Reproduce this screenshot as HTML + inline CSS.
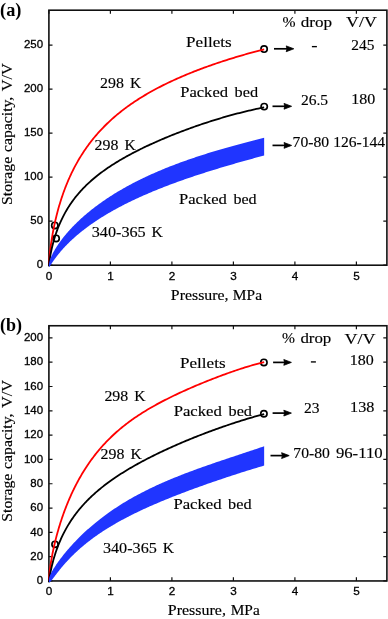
<!DOCTYPE html>
<html><head><meta charset="utf-8"><style>html,body{margin:0;padding:0;background:#fff;}svg{display:block;will-change:transform}</style></head>
<body><svg width="388" height="619" viewBox="0 0 388 619">
<rect width="388" height="619" fill="#fff"/>
<rect x="48.90" y="10.20" width="338.00" height="255.00" fill="none" stroke="#111" stroke-width="1.6"/>
<path d="M48.90,265.20h3.6M386.90,265.20h-3.6M48.90,221.18h3.6M386.90,221.18h-3.6M48.90,177.16h3.6M386.90,177.16h-3.6M48.90,133.14h3.6M386.90,133.14h-3.6M48.90,89.12h3.6M386.90,89.12h-3.6M48.90,45.10h3.6M386.90,45.10h-3.6M48.90,265.20v-3.6M48.90,10.20v3.6M110.40,265.20v-3.6M110.40,10.20v3.6M171.90,265.20v-3.6M171.90,10.20v3.6M233.40,265.20v-3.6M233.40,10.20v3.6M294.90,265.20v-3.6M294.90,10.20v3.6M356.40,265.20v-3.6M356.40,10.20v3.6" stroke="#111" stroke-width="1.2" fill="none"/>
<g font-family="Liberation Sans" font-size="11.7" fill="#000" stroke="#000" stroke-width="0.3"><text x="43.05" y="268.45" text-anchor="end" font-size="11.45">0</text><text x="43.05" y="224.43" text-anchor="end" font-size="11.45">50</text><text x="43.05" y="180.41" text-anchor="end" font-size="11.45">100</text><text x="43.05" y="136.39" text-anchor="end" font-size="11.45">150</text><text x="43.05" y="92.37" text-anchor="end" font-size="11.45">200</text><text x="43.05" y="48.35" text-anchor="end" font-size="11.45">250</text><text x="48.90" y="279.70" text-anchor="middle">0</text><text x="110.40" y="279.70" text-anchor="middle">1</text><text x="171.90" y="279.70" text-anchor="middle">2</text><text x="233.40" y="279.70" text-anchor="middle">3</text><text x="294.90" y="279.70" text-anchor="middle">4</text><text x="356.40" y="279.70" text-anchor="middle">5</text></g>
<circle cx="264.10" cy="49.10" r="3.15" fill="none" stroke="#000" stroke-width="1.65"/>
<circle cx="264.20" cy="106.60" r="3.15" fill="none" stroke="#000" stroke-width="1.65"/>
<circle cx="54.80" cy="225.40" r="3.15" fill="none" stroke="#000" stroke-width="1.65"/>
<circle cx="56.10" cy="238.40" r="3.15" fill="none" stroke="#000" stroke-width="1.65"/>
<path d="M48.90,265.20 L48.90,265.04 L48.92,264.67 L48.94,264.16 L48.97,263.55 L49.01,262.85 L49.06,262.06 L49.12,261.21 L49.19,260.30 L49.26,259.34 L49.35,258.32 L49.44,257.26 L49.55,256.16 L49.66,255.03 L49.78,253.85 L49.91,252.65 L50.05,251.42 L50.20,250.16 L50.35,248.88 L50.52,247.57 L50.70,246.25 L50.88,244.90 L51.07,243.54 L51.27,242.17 L51.49,240.78 L51.71,239.37 L51.93,237.96 L52.17,236.53 L52.42,235.10 L52.67,233.65 L52.94,232.20 L53.21,230.74 L53.50,229.28 L53.79,227.81 L54.09,226.34 L54.40,224.86 L54.72,223.38 L55.04,221.90 L55.38,220.42 L55.73,218.93 L56.08,217.45 L56.44,215.96 L56.82,214.48 L57.20,213.00 L57.59,211.52 L57.99,210.04 L58.40,208.56 L58.81,207.08 L59.24,205.61 L59.68,204.15 L60.12,202.68 L60.57,201.22 L61.04,199.76 L61.51,198.31 L61.99,196.87 L62.48,195.43 L62.97,193.99 L63.48,192.56 L64.00,191.14 L64.52,189.72 L65.06,188.30 L65.60,186.90 L66.15,185.50 L66.71,184.11 L67.28,182.72 L67.86,181.34 L68.45,179.97 L69.05,178.61 L69.65,177.25 L70.27,175.90 L70.89,174.56 L71.52,173.22 L72.17,171.90 L72.82,170.58 L73.48,169.27 L74.15,167.96 L74.82,166.67 L75.51,165.38 L76.21,164.10 L76.91,162.83 L77.62,161.57 L78.35,160.31 L79.08,159.07 L79.82,157.83 L80.57,156.60 L81.33,155.38 L82.09,154.17 L82.87,152.96 L83.66,151.77 L84.45,150.58 L85.25,149.40 L86.07,148.23 L86.89,147.06 L87.72,145.91 L88.56,144.76 L89.40,143.62 L90.26,142.49 L91.13,141.37 L92.00,140.26 L92.89,139.15 L93.78,138.05 L94.68,136.96 L95.59,135.88 L96.51,134.81 L97.44,133.74 L98.38,132.68 L99.33,131.63 L100.28,130.59 L101.25,129.56 L102.22,128.53 L103.21,127.51 L104.20,126.50 L105.20,125.50 L106.21,124.50 L107.23,123.51 L108.25,122.53 L109.29,121.55 L110.34,120.59 L111.39,119.63 L112.45,118.67 L113.53,117.73 L114.61,116.79 L115.70,115.86 L116.80,114.93 L117.91,114.01 L119.03,113.10 L120.15,112.20 L121.29,111.30 L122.43,110.41 L123.59,109.52 L124.75,108.64 L125.92,107.77 L127.10,106.90 L128.29,106.04 L129.49,105.19 L130.69,104.34 L131.91,103.50 L133.14,102.66 L134.37,101.83 L135.61,101.01 L136.87,100.19 L138.13,99.38 L139.40,98.57 L140.68,97.77 L141.96,96.97 L143.26,96.18 L144.57,95.39 L145.88,94.61 L147.21,93.84 L148.54,93.07 L149.88,92.30 L151.23,91.54 L152.59,90.79 L153.96,90.04 L155.34,89.29 L156.72,88.55 L158.12,87.82 L159.53,87.09 L160.94,86.36 L162.36,85.64 L163.79,84.92 L165.23,84.21 L166.68,83.50 L168.14,82.80 L169.61,82.10 L171.09,81.40 L172.57,80.71 L174.07,80.03 L175.57,79.34 L177.08,78.66 L178.60,77.99 L180.13,77.32 L181.67,76.65 L183.22,75.99 L184.78,75.33 L186.35,74.68 L187.92,74.02 L189.51,73.38 L191.10,72.73 L192.70,72.09 L194.31,71.46 L195.93,70.82 L197.56,70.19 L199.20,69.57 L200.85,68.95 L202.50,68.33 L204.17,67.71 L205.84,67.10 L207.52,66.49 L209.22,65.89 L210.92,65.29 L212.63,64.69 L214.35,64.09 L216.07,63.50 L217.81,62.91 L219.56,62.33 L221.31,61.75 L223.08,61.17 L224.85,60.60 L226.63,60.03 L228.42,59.46 L230.22,58.89 L232.03,58.33 L233.85,57.77 L235.67,57.22 L237.51,56.67 L239.35,56.12 L241.21,55.58 L243.07,55.04 L244.94,54.50 L246.82,53.97 L248.71,53.43 L250.61,52.91 L252.52,52.38 L254.43,51.86 L256.36,51.35 L258.29,50.83 L260.24,50.33 L262.19,49.82 L264.15,49.32" fill="none" stroke="#ff0000" stroke-width="1.8" stroke-linejoin="round"/>
<path d="M48.90,265.20 L48.90,265.52 L48.92,265.54 L48.94,265.39 L48.97,265.13 L49.01,264.78 L49.06,264.34 L49.12,263.84 L49.19,263.28 L49.26,262.67 L49.35,262.01 L49.44,261.31 L49.55,260.57 L49.66,259.80 L49.78,259.00 L49.91,258.17 L50.05,257.31 L50.20,256.43 L50.35,255.53 L50.52,254.61 L50.70,253.67 L50.88,252.72 L51.07,251.76 L51.27,250.78 L51.49,249.79 L51.71,248.79 L51.93,247.78 L52.17,246.77 L52.42,245.74 L52.67,244.72 L52.94,243.68 L53.21,242.64 L53.50,241.60 L53.79,240.56 L54.09,239.51 L54.40,238.46 L54.72,237.41 L55.04,236.36 L55.38,235.31 L55.73,234.26 L56.08,233.21 L56.44,232.16 L56.82,231.12 L57.20,230.07 L57.59,229.03 L57.99,227.99 L58.40,226.95 L58.81,225.92 L59.24,224.89 L59.68,223.86 L60.12,222.84 L60.57,221.82 L61.04,220.81 L61.51,219.80 L61.99,218.79 L62.48,217.79 L62.97,216.80 L63.48,215.81 L64.00,214.82 L64.52,213.85 L65.06,212.87 L65.60,211.90 L66.15,210.94 L66.71,209.98 L67.28,209.03 L67.86,208.08 L68.45,207.14 L69.05,206.21 L69.65,205.28 L70.27,204.35 L70.89,203.44 L71.52,202.53 L72.17,201.62 L72.82,200.72 L73.48,199.83 L74.15,198.94 L74.82,198.05 L75.51,197.18 L76.21,196.31 L76.91,195.44 L77.62,194.58 L78.35,193.73 L79.08,192.88 L79.82,192.04 L80.57,191.20 L81.33,190.37 L82.09,189.54 L82.87,188.72 L83.66,187.90 L84.45,187.09 L85.25,186.28 L86.07,185.48 L86.89,184.69 L87.72,183.90 L88.56,183.11 L89.40,182.33 L90.26,181.55 L91.13,180.78 L92.00,180.02 L92.89,179.25 L93.78,178.50 L94.68,177.74 L95.59,176.99 L96.51,176.25 L97.44,175.51 L98.38,174.77 L99.33,174.04 L100.28,173.31 L101.25,172.58 L102.22,171.86 L103.21,171.14 L104.20,170.43 L105.20,169.72 L106.21,169.01 L107.23,168.31 L108.25,167.61 L109.29,166.91 L110.34,166.22 L111.39,165.53 L112.45,164.84 L113.53,164.15 L114.61,163.47 L115.70,162.79 L116.80,162.12 L117.91,161.44 L119.03,160.77 L120.15,160.10 L121.29,159.44 L122.43,158.77 L123.59,158.11 L124.75,157.45 L125.92,156.80 L127.10,156.14 L128.29,155.49 L129.49,154.84 L130.69,154.19 L131.91,153.54 L133.14,152.90 L134.37,152.26 L135.61,151.62 L136.87,150.98 L138.13,150.34 L139.40,149.71 L140.68,149.07 L141.96,148.44 L143.26,147.81 L144.57,147.18 L145.88,146.56 L147.21,145.93 L148.54,145.31 L149.88,144.69 L151.23,144.07 L152.59,143.45 L153.96,142.83 L155.34,142.21 L156.72,141.60 L158.12,140.99 L159.53,140.37 L160.94,139.76 L162.36,139.16 L163.79,138.55 L165.23,137.94 L166.68,137.34 L168.14,136.74 L169.61,136.14 L171.09,135.54 L172.57,134.94 L174.07,134.34 L175.57,133.75 L177.08,133.16 L178.60,132.56 L180.13,131.98 L181.67,131.39 L183.22,130.80 L184.78,130.22 L186.35,129.64 L187.92,129.06 L189.51,128.48 L191.10,127.90 L192.70,127.33 L194.31,126.76 L195.93,126.19 L197.56,125.63 L199.20,125.06 L200.85,124.50 L202.50,123.94 L204.17,123.39 L205.84,122.83 L207.52,122.28 L209.22,121.74 L210.92,121.19 L212.63,120.65 L214.35,120.11 L216.07,119.58 L217.81,119.05 L219.56,118.52 L221.31,118.00 L223.08,117.48 L224.85,116.97 L226.63,116.45 L228.42,115.95 L230.22,115.45 L232.03,114.95 L233.85,114.46 L235.67,113.97 L237.51,113.48 L239.35,113.01 L241.21,112.53 L243.07,112.07 L244.94,111.61 L246.82,111.15 L248.71,110.70 L250.61,110.26 L252.52,109.82 L254.43,109.39 L256.36,108.97 L258.29,108.55 L260.24,108.14 L262.19,107.74 L264.15,107.35" fill="none" stroke="#000" stroke-width="1.8" stroke-linejoin="round"/>
<path d="M48.90,265.20 L48.90,264.93 L48.92,264.65 L48.94,264.35 L48.97,264.05 L49.01,263.74 L49.06,263.42 L49.12,263.08 L49.19,262.74 L49.26,262.39 L49.35,262.03 L49.44,261.66 L49.55,261.28 L49.66,260.90 L49.78,260.50 L49.91,260.10 L50.05,259.68 L50.20,259.26 L50.35,258.83 L50.52,258.40 L50.70,257.95 L50.88,257.50 L51.07,257.04 L51.27,256.57 L51.49,256.10 L51.71,255.61 L51.93,255.13 L52.17,254.63 L52.42,254.13 L52.67,253.62 L52.94,253.10 L53.21,252.58 L53.50,252.06 L53.79,251.52 L54.09,250.98 L54.40,250.44 L54.72,249.89 L55.04,249.33 L55.38,248.77 L55.73,248.20 L56.08,247.63 L56.44,247.05 L56.82,246.47 L57.20,245.88 L57.59,245.29 L57.99,244.70 L58.40,244.10 L58.81,243.49 L59.24,242.88 L59.68,242.27 L60.12,241.65 L60.57,241.03 L61.04,240.41 L61.51,239.78 L61.99,239.15 L62.48,238.51 L62.97,237.87 L63.48,237.23 L64.00,236.59 L64.52,235.94 L65.06,235.29 L65.60,234.64 L66.15,233.98 L66.71,233.32 L67.28,232.66 L67.86,232.00 L68.45,231.33 L69.05,230.66 L69.65,229.99 L70.27,229.32 L70.89,228.65 L71.52,227.97 L72.17,227.30 L72.82,226.62 L73.48,225.94 L74.15,225.25 L74.82,224.57 L75.51,223.89 L76.21,223.20 L76.91,222.51 L77.62,221.83 L78.35,221.14 L79.08,220.45 L79.82,219.76 L80.57,219.06 L81.33,218.37 L82.09,217.68 L82.87,216.99 L83.66,216.29 L84.45,215.60 L85.25,214.91 L86.07,214.21 L86.89,213.52 L87.72,212.82 L88.56,212.13 L89.40,211.44 L90.26,210.74 L91.13,210.05 L92.00,209.35 L92.89,208.66 L93.78,207.97 L94.68,207.28 L95.59,206.58 L96.51,205.89 L97.44,205.20 L98.38,204.51 L99.33,203.82 L100.28,203.14 L101.25,202.45 L102.22,201.76 L103.21,201.08 L104.20,200.39 L105.20,199.71 L106.21,199.03 L107.23,198.35 L108.25,197.67 L109.29,196.99 L110.34,196.31 L111.39,195.64 L112.45,194.96 L113.53,194.29 L114.61,193.62 L115.70,192.95 L116.80,192.28 L117.91,191.62 L119.03,190.95 L120.15,190.29 L121.29,189.63 L122.43,188.97 L123.59,188.31 L124.75,187.65 L125.92,187.00 L127.10,186.35 L128.29,185.70 L129.49,185.05 L130.69,184.40 L131.91,183.76 L133.14,183.12 L134.37,182.48 L135.61,181.84 L136.87,181.20 L138.13,180.57 L139.40,179.94 L140.68,179.31 L141.96,178.68 L143.26,178.06 L144.57,177.43 L145.88,176.81 L147.21,176.20 L148.54,175.58 L149.88,174.97 L151.23,174.36 L152.59,173.75 L153.96,173.14 L155.34,172.54 L156.72,171.93 L158.12,171.33 L159.53,170.74 L160.94,170.14 L162.36,169.55 L163.79,168.96 L165.23,168.37 L166.68,167.79 L168.14,167.20 L169.61,166.62 L171.09,166.04 L172.57,165.47 L174.07,164.89 L175.57,164.32 L177.08,163.75 L178.60,163.19 L180.13,162.62 L181.67,162.06 L183.22,161.50 L184.78,160.94 L186.35,160.39 L187.92,159.84 L189.51,159.29 L191.10,158.74 L192.70,158.19 L194.31,157.65 L195.93,157.11 L197.56,156.57 L199.20,156.03 L200.85,155.49 L202.50,154.96 L204.17,154.43 L205.84,153.90 L207.52,153.37 L209.22,152.85 L210.92,152.33 L212.63,151.80 L214.35,151.29 L216.07,150.77 L217.81,150.25 L219.56,149.74 L221.31,149.23 L223.08,148.72 L224.85,148.21 L226.63,147.70 L228.42,147.20 L230.22,146.69 L232.03,146.19 L233.85,145.69 L235.67,145.19 L237.51,144.70 L239.35,144.20 L241.21,143.71 L243.07,143.21 L244.94,142.72 L246.82,142.23 L248.71,141.74 L250.61,141.25 L252.52,140.77 L254.43,140.28 L256.36,139.79 L258.29,139.31 L260.24,138.83 L262.19,138.34 L264.15,137.86 L264.15,155.48 L262.19,156.01 L260.24,156.53 L258.29,157.06 L256.36,157.58 L254.43,158.10 L252.52,158.63 L250.61,159.15 L248.71,159.68 L246.82,160.20 L244.94,160.72 L243.07,161.25 L241.21,161.77 L239.35,162.30 L237.51,162.82 L235.67,163.35 L233.85,163.88 L232.03,164.40 L230.22,164.93 L228.42,165.46 L226.63,165.98 L224.85,166.51 L223.08,167.04 L221.31,167.57 L219.56,168.10 L217.81,168.63 L216.07,169.16 L214.35,169.69 L212.63,170.22 L210.92,170.75 L209.22,171.29 L207.52,171.82 L205.84,172.35 L204.17,172.89 L202.50,173.42 L200.85,173.96 L199.20,174.50 L197.56,175.03 L195.93,175.57 L194.31,176.11 L192.70,176.65 L191.10,177.19 L189.51,177.74 L187.92,178.28 L186.35,178.82 L184.78,179.37 L183.22,179.91 L181.67,180.46 L180.13,181.01 L178.60,181.56 L177.08,182.11 L175.57,182.66 L174.07,183.21 L172.57,183.76 L171.09,184.31 L169.61,184.87 L168.14,185.42 L166.68,185.98 L165.23,186.54 L163.79,187.10 L162.36,187.66 L160.94,188.22 L159.53,188.78 L158.12,189.34 L156.72,189.91 L155.34,190.47 L153.96,191.04 L152.59,191.61 L151.23,192.17 L149.88,192.74 L148.54,193.32 L147.21,193.89 L145.88,194.46 L144.57,195.03 L143.26,195.61 L141.96,196.19 L140.68,196.76 L139.40,197.34 L138.13,197.92 L136.87,198.50 L135.61,199.09 L134.37,199.67 L133.14,200.25 L131.91,200.84 L130.69,201.43 L129.49,202.01 L128.29,202.60 L127.10,203.19 L125.92,203.78 L124.75,204.37 L123.59,204.97 L122.43,205.56 L121.29,206.15 L120.15,206.75 L119.03,207.35 L117.91,207.94 L116.80,208.54 L115.70,209.14 L114.61,209.74 L113.53,210.34 L112.45,210.95 L111.39,211.55 L110.34,212.15 L109.29,212.76 L108.25,213.36 L107.23,213.97 L106.21,214.58 L105.20,215.18 L104.20,215.79 L103.21,216.40 L102.22,217.01 L101.25,217.62 L100.28,218.23 L99.33,218.84 L98.38,219.45 L97.44,220.06 L96.51,220.68 L95.59,221.29 L94.68,221.90 L93.78,222.51 L92.89,223.13 L92.00,223.74 L91.13,224.35 L90.26,224.97 L89.40,225.58 L88.56,226.20 L87.72,226.81 L86.89,227.42 L86.07,228.04 L85.25,228.65 L84.45,229.26 L83.66,229.88 L82.87,230.49 L82.09,231.10 L81.33,231.71 L80.57,232.32 L79.82,232.93 L79.08,233.54 L78.35,234.15 L77.62,234.76 L76.91,235.37 L76.21,235.97 L75.51,236.58 L74.82,237.18 L74.15,237.78 L73.48,238.38 L72.82,238.98 L72.17,239.58 L71.52,240.18 L70.89,240.77 L70.27,241.36 L69.65,241.96 L69.05,242.54 L68.45,243.13 L67.86,243.72 L67.28,244.30 L66.71,244.88 L66.15,245.45 L65.60,246.03 L65.06,246.60 L64.52,247.17 L64.00,247.73 L63.48,248.30 L62.97,248.86 L62.48,249.41 L61.99,249.96 L61.51,250.51 L61.04,251.05 L60.57,251.59 L60.12,252.13 L59.68,252.66 L59.24,253.19 L58.81,253.71 L58.40,254.22 L57.99,254.73 L57.59,255.24 L57.20,255.74 L56.82,256.23 L56.44,256.72 L56.08,257.20 L55.73,257.67 L55.38,258.14 L55.04,258.60 L54.72,259.05 L54.40,259.50 L54.09,259.93 L53.79,260.36 L53.50,260.78 L53.21,261.19 L52.94,261.59 L52.67,261.98 L52.42,262.36 L52.17,262.73 L51.93,263.09 L51.71,263.44 L51.49,263.77 L51.27,264.09 L51.07,264.40 L50.88,264.70 L50.70,264.98 L50.52,265.24 L50.35,265.49 L50.20,265.72 L50.05,265.94 L49.91,266.13 L49.78,266.31 L49.66,266.47 L49.55,266.60 L49.44,266.71 L49.35,266.79 L49.26,266.84 L49.19,266.87 L49.12,266.86 L49.06,266.82 L49.01,266.74 L48.97,266.60 L48.94,266.42 L48.92,266.16 L48.90,265.80 L48.90,265.20Z" fill="#2035ff" stroke="none"/>
<rect x="48.90" y="325.75" width="338.00" height="255.20" fill="none" stroke="#111" stroke-width="1.6"/>
<path d="M48.90,580.95h3.6M386.90,580.95h-3.6M48.90,556.64h3.6M386.90,556.64h-3.6M48.90,532.34h3.6M386.90,532.34h-3.6M48.90,508.03h3.6M386.90,508.03h-3.6M48.90,483.73h3.6M386.90,483.73h-3.6M48.90,459.42h3.6M386.90,459.42h-3.6M48.90,435.11h3.6M386.90,435.11h-3.6M48.90,410.81h3.6M386.90,410.81h-3.6M48.90,386.50h3.6M386.90,386.50h-3.6M48.90,362.20h3.6M386.90,362.20h-3.6M48.90,337.89h3.6M386.90,337.89h-3.6M48.90,580.95v-3.6M48.90,325.75v3.6M110.40,580.95v-3.6M110.40,325.75v3.6M171.90,580.95v-3.6M171.90,325.75v3.6M233.40,580.95v-3.6M233.40,325.75v3.6M294.90,580.95v-3.6M294.90,325.75v3.6M356.40,580.95v-3.6M356.40,325.75v3.6" stroke="#111" stroke-width="1.2" fill="none"/>
<g font-family="Liberation Sans" font-size="11.7" fill="#000" stroke="#000" stroke-width="0.3"><text x="43.05" y="584.20" text-anchor="end" font-size="11.45">0</text><text x="43.05" y="559.89" text-anchor="end" font-size="11.45">20</text><text x="43.05" y="535.59" text-anchor="end" font-size="11.45">40</text><text x="43.05" y="511.28" text-anchor="end" font-size="11.45">60</text><text x="43.05" y="486.98" text-anchor="end" font-size="11.45">80</text><text x="43.05" y="462.67" text-anchor="end" font-size="11.45">100</text><text x="43.05" y="438.36" text-anchor="end" font-size="11.45">120</text><text x="43.05" y="414.06" text-anchor="end" font-size="11.45">140</text><text x="43.05" y="389.75" text-anchor="end" font-size="11.45">160</text><text x="43.05" y="365.45" text-anchor="end" font-size="11.45">180</text><text x="43.05" y="341.14" text-anchor="end" font-size="11.45">200</text><text x="48.90" y="595.45" text-anchor="middle">0</text><text x="110.40" y="595.45" text-anchor="middle">1</text><text x="171.90" y="595.45" text-anchor="middle">2</text><text x="233.40" y="595.45" text-anchor="middle">3</text><text x="294.90" y="595.45" text-anchor="middle">4</text><text x="356.40" y="595.45" text-anchor="middle">5</text></g>
<circle cx="263.90" cy="362.40" r="3.15" fill="none" stroke="#000" stroke-width="1.65"/>
<circle cx="263.90" cy="413.80" r="3.15" fill="none" stroke="#000" stroke-width="1.65"/>
<circle cx="55.00" cy="544.30" r="3.1" fill="none" stroke="#000" stroke-width="1.65"/>
<path d="M48.90,580.95 L48.90,580.69 L48.92,580.25 L48.94,579.72 L48.97,579.11 L49.01,578.44 L49.06,577.72 L49.12,576.94 L49.19,576.13 L49.26,575.27 L49.35,574.37 L49.44,573.45 L49.55,572.49 L49.66,571.50 L49.78,570.48 L49.91,569.44 L50.05,568.37 L50.20,567.28 L50.35,566.16 L50.52,565.03 L50.70,563.88 L50.88,562.70 L51.07,561.51 L51.27,560.31 L51.49,559.08 L51.71,557.84 L51.93,556.59 L52.17,555.32 L52.42,554.04 L52.67,552.75 L52.94,551.45 L53.21,550.13 L53.50,548.81 L53.79,547.47 L54.09,546.13 L54.40,544.78 L54.72,543.41 L55.04,542.05 L55.38,540.67 L55.73,539.29 L56.08,537.90 L56.44,536.50 L56.82,535.10 L57.20,533.70 L57.59,532.29 L57.99,530.88 L58.40,529.46 L58.81,528.04 L59.24,526.62 L59.68,525.20 L60.12,523.77 L60.57,522.34 L61.04,520.91 L61.51,519.48 L61.99,518.05 L62.48,516.62 L62.97,515.19 L63.48,513.77 L64.00,512.34 L64.52,510.91 L65.06,509.48 L65.60,508.06 L66.15,506.64 L66.71,505.22 L67.28,503.80 L67.86,502.39 L68.45,500.98 L69.05,499.57 L69.65,498.17 L70.27,496.77 L70.89,495.38 L71.52,493.99 L72.17,492.60 L72.82,491.22 L73.48,489.85 L74.15,488.48 L74.82,487.11 L75.51,485.75 L76.21,484.40 L76.91,483.06 L77.62,481.72 L78.35,480.38 L79.08,479.06 L79.82,477.74 L80.57,476.43 L81.33,475.12 L82.09,473.83 L82.87,472.54 L83.66,471.25 L84.45,469.98 L85.25,468.71 L86.07,467.45 L86.89,466.20 L87.72,464.96 L88.56,463.73 L89.40,462.50 L90.26,461.29 L91.13,460.08 L92.00,458.88 L92.89,457.69 L93.78,456.50 L94.68,455.33 L95.59,454.17 L96.51,453.01 L97.44,451.87 L98.38,450.73 L99.33,449.60 L100.28,448.48 L101.25,447.37 L102.22,446.27 L103.21,445.18 L104.20,444.09 L105.20,443.02 L106.21,441.96 L107.23,440.90 L108.25,439.85 L109.29,438.81 L110.34,437.78 L111.39,436.76 L112.45,435.75 L113.53,434.75 L114.61,433.76 L115.70,432.77 L116.80,431.79 L117.91,430.82 L119.03,429.86 L120.15,428.91 L121.29,427.97 L122.43,427.03 L123.59,426.11 L124.75,425.19 L125.92,424.27 L127.10,423.37 L128.29,422.47 L129.49,421.59 L130.69,420.70 L131.91,419.83 L133.14,418.96 L134.37,418.10 L135.61,417.25 L136.87,416.40 L138.13,415.56 L139.40,414.73 L140.68,413.90 L141.96,413.08 L143.26,412.26 L144.57,411.45 L145.88,410.65 L147.21,409.85 L148.54,409.06 L149.88,408.27 L151.23,407.49 L152.59,406.71 L153.96,405.94 L155.34,405.17 L156.72,404.41 L158.12,403.65 L159.53,402.89 L160.94,402.14 L162.36,401.40 L163.79,400.65 L165.23,399.91 L166.68,399.18 L168.14,398.45 L169.61,397.72 L171.09,396.99 L172.57,396.27 L174.07,395.55 L175.57,394.83 L177.08,394.11 L178.60,393.40 L180.13,392.69 L181.67,391.98 L183.22,391.28 L184.78,390.57 L186.35,389.87 L187.92,389.17 L189.51,388.47 L191.10,387.78 L192.70,387.09 L194.31,386.39 L195.93,385.70 L197.56,385.02 L199.20,384.33 L200.85,383.65 L202.50,382.96 L204.17,382.28 L205.84,381.60 L207.52,380.93 L209.22,380.25 L210.92,379.58 L212.63,378.91 L214.35,378.24 L216.07,377.58 L217.81,376.92 L219.56,376.26 L221.31,375.60 L223.08,374.95 L224.85,374.30 L226.63,373.65 L228.42,373.01 L230.22,372.37 L232.03,371.74 L233.85,371.11 L235.67,370.49 L237.51,369.87 L239.35,369.26 L241.21,368.65 L243.07,368.06 L244.94,367.46 L246.82,366.88 L248.71,366.31 L250.61,365.74 L252.52,365.18 L254.43,364.64 L256.36,364.10 L258.29,363.58 L260.24,363.07 L262.19,362.57 L264.15,362.08" fill="none" stroke="#ff0000" stroke-width="1.8" stroke-linejoin="round"/>
<path d="M48.90,580.95 L48.90,581.49 L48.92,581.66 L48.94,581.65 L48.97,581.52 L49.01,581.28 L49.06,580.96 L49.12,580.56 L49.19,580.10 L49.26,579.58 L49.35,579.00 L49.44,578.39 L49.55,577.72 L49.66,577.03 L49.78,576.29 L49.91,575.53 L50.05,574.73 L50.20,573.91 L50.35,573.07 L50.52,572.20 L50.70,571.32 L50.88,570.41 L51.07,569.49 L51.27,568.55 L51.49,567.60 L51.71,566.64 L51.93,565.66 L52.17,564.67 L52.42,563.68 L52.67,562.67 L52.94,561.66 L53.21,560.64 L53.50,559.62 L53.79,558.59 L54.09,557.55 L54.40,556.51 L54.72,555.47 L55.04,554.43 L55.38,553.38 L55.73,552.33 L56.08,551.28 L56.44,550.23 L56.82,549.18 L57.20,548.13 L57.59,547.08 L57.99,546.04 L58.40,544.99 L58.81,543.94 L59.24,542.90 L59.68,541.86 L60.12,540.82 L60.57,539.78 L61.04,538.74 L61.51,537.71 L61.99,536.69 L62.48,535.66 L62.97,534.64 L63.48,533.62 L64.00,532.61 L64.52,531.60 L65.06,530.59 L65.60,529.59 L66.15,528.59 L66.71,527.60 L67.28,526.61 L67.86,525.63 L68.45,524.65 L69.05,523.68 L69.65,522.71 L70.27,521.75 L70.89,520.79 L71.52,519.83 L72.17,518.88 L72.82,517.94 L73.48,517.00 L74.15,516.06 L74.82,515.14 L75.51,514.21 L76.21,513.29 L76.91,512.38 L77.62,511.47 L78.35,510.56 L79.08,509.67 L79.82,508.77 L80.57,507.88 L81.33,507.00 L82.09,506.12 L82.87,505.24 L83.66,504.37 L84.45,503.51 L85.25,502.65 L86.07,501.79 L86.89,500.94 L87.72,500.09 L88.56,499.25 L89.40,498.41 L90.26,497.58 L91.13,496.75 L92.00,495.93 L92.89,495.11 L93.78,494.29 L94.68,493.48 L95.59,492.67 L96.51,491.87 L97.44,491.07 L98.38,490.27 L99.33,489.48 L100.28,488.69 L101.25,487.91 L102.22,487.13 L103.21,486.35 L104.20,485.58 L105.20,484.81 L106.21,484.04 L107.23,483.27 L108.25,482.51 L109.29,481.76 L110.34,481.00 L111.39,480.25 L112.45,479.50 L113.53,478.76 L114.61,478.01 L115.70,477.27 L116.80,476.54 L117.91,475.80 L119.03,475.07 L120.15,474.34 L121.29,473.61 L122.43,472.89 L123.59,472.16 L124.75,471.44 L125.92,470.73 L127.10,470.01 L128.29,469.30 L129.49,468.59 L130.69,467.88 L131.91,467.17 L133.14,466.46 L134.37,465.76 L135.61,465.06 L136.87,464.35 L138.13,463.66 L139.40,462.96 L140.68,462.26 L141.96,461.57 L143.26,460.88 L144.57,460.19 L145.88,459.50 L147.21,458.81 L148.54,458.12 L149.88,457.44 L151.23,456.75 L152.59,456.07 L153.96,455.39 L155.34,454.71 L156.72,454.03 L158.12,453.35 L159.53,452.67 L160.94,452.00 L162.36,451.33 L163.79,450.65 L165.23,449.98 L166.68,449.31 L168.14,448.64 L169.61,447.97 L171.09,447.31 L172.57,446.64 L174.07,445.98 L175.57,445.31 L177.08,444.65 L178.60,443.99 L180.13,443.33 L181.67,442.67 L183.22,442.01 L184.78,441.36 L186.35,440.70 L187.92,440.05 L189.51,439.40 L191.10,438.74 L192.70,438.09 L194.31,437.45 L195.93,436.80 L197.56,436.16 L199.20,435.51 L200.85,434.87 L202.50,434.23 L204.17,433.59 L205.84,432.96 L207.52,432.32 L209.22,431.69 L210.92,431.06 L212.63,430.43 L214.35,429.80 L216.07,429.18 L217.81,428.56 L219.56,427.94 L221.31,427.32 L223.08,426.70 L224.85,426.09 L226.63,425.48 L228.42,424.88 L230.22,424.27 L232.03,423.67 L233.85,423.07 L235.67,422.48 L237.51,421.89 L239.35,421.30 L241.21,420.71 L243.07,420.13 L244.94,419.56 L246.82,418.98 L248.71,418.41 L250.61,417.85 L252.52,417.29 L254.43,416.73 L256.36,416.18 L258.29,415.63 L260.24,415.09 L262.19,414.55 L264.15,414.02" fill="none" stroke="#000" stroke-width="1.8" stroke-linejoin="round"/>
<path d="M48.90,580.95 L48.90,580.37 L48.92,579.95 L48.94,579.58 L48.97,579.23 L49.01,578.89 L49.06,578.56 L49.12,578.24 L49.19,577.92 L49.26,577.60 L49.35,577.28 L49.44,576.96 L49.55,576.64 L49.66,576.31 L49.78,575.98 L49.91,575.64 L50.05,575.30 L50.20,574.95 L50.35,574.59 L50.52,574.23 L50.70,573.86 L50.88,573.48 L51.07,573.10 L51.27,572.71 L51.49,572.31 L51.71,571.90 L51.93,571.49 L52.17,571.07 L52.42,570.64 L52.67,570.20 L52.94,569.75 L53.21,569.30 L53.50,568.84 L53.79,568.36 L54.09,567.89 L54.40,567.40 L54.72,566.91 L55.04,566.40 L55.38,565.90 L55.73,565.38 L56.08,564.85 L56.44,564.32 L56.82,563.78 L57.20,563.23 L57.59,562.68 L57.99,562.12 L58.40,561.55 L58.81,560.98 L59.24,560.39 L59.68,559.81 L60.12,559.21 L60.57,558.61 L61.04,558.00 L61.51,557.39 L61.99,556.77 L62.48,556.14 L62.97,555.51 L63.48,554.87 L64.00,554.23 L64.52,553.58 L65.06,552.93 L65.60,552.27 L66.15,551.61 L66.71,550.94 L67.28,550.27 L67.86,549.59 L68.45,548.91 L69.05,548.22 L69.65,547.53 L70.27,546.84 L70.89,546.14 L71.52,545.44 L72.17,544.74 L72.82,544.03 L73.48,543.32 L74.15,542.60 L74.82,541.89 L75.51,541.17 L76.21,540.44 L76.91,539.72 L77.62,538.99 L78.35,538.26 L79.08,537.53 L79.82,536.79 L80.57,536.06 L81.33,535.32 L82.09,534.58 L82.87,533.84 L83.66,533.10 L84.45,532.36 L85.25,531.61 L86.07,530.87 L86.89,530.12 L87.72,529.37 L88.56,528.63 L89.40,527.88 L90.26,527.13 L91.13,526.38 L92.00,525.63 L92.89,524.88 L93.78,524.14 L94.68,523.39 L95.59,522.64 L96.51,521.89 L97.44,521.14 L98.38,520.40 L99.33,519.65 L100.28,518.91 L101.25,518.16 L102.22,517.42 L103.21,516.68 L104.20,515.93 L105.20,515.19 L106.21,514.46 L107.23,513.72 L108.25,512.98 L109.29,512.25 L110.34,511.52 L111.39,510.78 L112.45,510.06 L113.53,509.33 L114.61,508.60 L115.70,507.88 L116.80,507.16 L117.91,506.44 L119.03,505.72 L120.15,505.01 L121.29,504.29 L122.43,503.58 L123.59,502.87 L124.75,502.17 L125.92,501.46 L127.10,500.76 L128.29,500.06 L129.49,499.37 L130.69,498.67 L131.91,497.98 L133.14,497.29 L134.37,496.61 L135.61,495.93 L136.87,495.24 L138.13,494.57 L139.40,493.89 L140.68,493.22 L141.96,492.55 L143.26,491.88 L144.57,491.22 L145.88,490.56 L147.21,489.90 L148.54,489.24 L149.88,488.59 L151.23,487.93 L152.59,487.29 L153.96,486.64 L155.34,486.00 L156.72,485.36 L158.12,484.72 L159.53,484.08 L160.94,483.45 L162.36,482.82 L163.79,482.19 L165.23,481.56 L166.68,480.94 L168.14,480.32 L169.61,479.70 L171.09,479.08 L172.57,478.47 L174.07,477.86 L175.57,477.24 L177.08,476.64 L178.60,476.03 L180.13,475.42 L181.67,474.82 L183.22,474.22 L184.78,473.62 L186.35,473.02 L187.92,472.42 L189.51,471.82 L191.10,471.23 L192.70,470.63 L194.31,470.04 L195.93,469.45 L197.56,468.86 L199.20,468.27 L200.85,467.67 L202.50,467.08 L204.17,466.50 L205.84,465.91 L207.52,465.32 L209.22,464.73 L210.92,464.14 L212.63,463.55 L214.35,462.96 L216.07,462.37 L217.81,461.77 L219.56,461.18 L221.31,460.59 L223.08,459.99 L224.85,459.40 L226.63,458.80 L228.42,458.20 L230.22,457.60 L232.03,456.99 L233.85,456.39 L235.67,455.78 L237.51,455.17 L239.35,454.56 L241.21,453.94 L243.07,453.32 L244.94,452.70 L246.82,452.07 L248.71,451.44 L250.61,450.81 L252.52,450.17 L254.43,449.53 L256.36,448.88 L258.29,448.23 L260.24,447.58 L262.19,446.91 L264.15,446.25 L264.15,465.58 L262.19,466.16 L260.24,466.74 L258.29,467.33 L256.36,467.91 L254.43,468.50 L252.52,469.09 L250.61,469.68 L248.71,470.26 L246.82,470.85 L244.94,471.44 L243.07,472.03 L241.21,472.62 L239.35,473.21 L237.51,473.81 L235.67,474.40 L233.85,474.99 L232.03,475.58 L230.22,476.17 L228.42,476.77 L226.63,477.36 L224.85,477.95 L223.08,478.54 L221.31,479.13 L219.56,479.73 L217.81,480.32 L216.07,480.91 L214.35,481.50 L212.63,482.09 L210.92,482.69 L209.22,483.28 L207.52,483.87 L205.84,484.46 L204.17,485.05 L202.50,485.64 L200.85,486.23 L199.20,486.83 L197.56,487.42 L195.93,488.01 L194.31,488.60 L192.70,489.19 L191.10,489.78 L189.51,490.37 L187.92,490.96 L186.35,491.55 L184.78,492.14 L183.22,492.73 L181.67,493.32 L180.13,493.91 L178.60,494.50 L177.08,495.09 L175.57,495.68 L174.07,496.28 L172.57,496.87 L171.09,497.46 L169.61,498.05 L168.14,498.64 L166.68,499.23 L165.23,499.83 L163.79,500.42 L162.36,501.01 L160.94,501.61 L159.53,502.20 L158.12,502.79 L156.72,503.39 L155.34,503.98 L153.96,504.58 L152.59,505.18 L151.23,505.77 L149.88,506.37 L148.54,506.97 L147.21,507.57 L145.88,508.17 L144.57,508.77 L143.26,509.37 L141.96,509.98 L140.68,510.58 L139.40,511.18 L138.13,511.79 L136.87,512.39 L135.61,513.00 L134.37,513.61 L133.14,514.22 L131.91,514.83 L130.69,515.44 L129.49,516.05 L128.29,516.67 L127.10,517.28 L125.92,517.90 L124.75,518.52 L123.59,519.13 L122.43,519.75 L121.29,520.37 L120.15,521.00 L119.03,521.62 L117.91,522.24 L116.80,522.87 L115.70,523.50 L114.61,524.13 L113.53,524.76 L112.45,525.39 L111.39,526.02 L110.34,526.65 L109.29,527.29 L108.25,527.92 L107.23,528.56 L106.21,529.20 L105.20,529.84 L104.20,530.48 L103.21,531.12 L102.22,531.77 L101.25,532.41 L100.28,533.06 L99.33,533.70 L98.38,534.35 L97.44,535.00 L96.51,535.65 L95.59,536.30 L94.68,536.95 L93.78,537.61 L92.89,538.26 L92.00,538.92 L91.13,539.57 L90.26,540.23 L89.40,540.88 L88.56,541.54 L87.72,542.20 L86.89,542.85 L86.07,543.51 L85.25,544.17 L84.45,544.83 L83.66,545.49 L82.87,546.15 L82.09,546.80 L81.33,547.46 L80.57,548.12 L79.82,548.78 L79.08,549.43 L78.35,550.09 L77.62,550.75 L76.91,551.40 L76.21,552.05 L75.51,552.71 L74.82,553.36 L74.15,554.01 L73.48,554.66 L72.82,555.30 L72.17,555.95 L71.52,556.59 L70.89,557.23 L70.27,557.87 L69.65,558.50 L69.05,559.14 L68.45,559.77 L67.86,560.39 L67.28,561.02 L66.71,561.64 L66.15,562.25 L65.60,562.87 L65.06,563.48 L64.52,564.08 L64.00,564.68 L63.48,565.28 L62.97,565.87 L62.48,566.45 L61.99,567.03 L61.51,567.60 L61.04,568.17 L60.57,568.73 L60.12,569.29 L59.68,569.84 L59.24,570.38 L58.81,570.91 L58.40,571.44 L57.99,571.96 L57.59,572.47 L57.20,572.97 L56.82,573.46 L56.44,573.95 L56.08,574.42 L55.73,574.88 L55.38,575.34 L55.04,575.78 L54.72,576.22 L54.40,576.64 L54.09,577.05 L53.79,577.44 L53.50,577.83 L53.21,578.20 L52.94,578.56 L52.67,578.91 L52.42,579.24 L52.17,579.56 L51.93,579.86 L51.71,580.15 L51.49,580.42 L51.27,580.68 L51.07,580.91 L50.88,581.14 L50.70,581.34 L50.52,581.53 L50.35,581.69 L50.20,581.84 L50.05,581.97 L49.91,582.08 L49.78,582.17 L49.66,582.24 L49.55,582.29 L49.44,582.31 L49.35,582.31 L49.26,582.29 L49.19,582.24 L49.12,582.17 L49.06,582.08 L49.01,581.96 L48.97,581.81 L48.94,581.64 L48.92,581.44 L48.90,581.21 L48.90,580.95Z" fill="#2035ff" stroke="none"/>
<path d="M274.00,48.80H288.30" stroke="#000" stroke-width="1.7" fill="none"/><path d="M293.80,48.80L286.20,45.90Q287.80,48.80 286.20,51.70Z" fill="#000" stroke="#000" stroke-width="0.8" stroke-linejoin="round"/>
<path d="M272.50,106.30H286.10" stroke="#000" stroke-width="1.7" fill="none"/><path d="M291.60,106.30L284.00,103.40Q285.60,106.30 284.00,109.20Z" fill="#000" stroke="#000" stroke-width="0.8" stroke-linejoin="round"/>
<path d="M272.50,145.40H286.10" stroke="#000" stroke-width="1.7" fill="none"/><path d="M291.60,145.40L284.00,142.50Q285.60,145.40 284.00,148.30Z" fill="#000" stroke="#000" stroke-width="0.8" stroke-linejoin="round"/>
<path d="M273.10,362.40H285.90" stroke="#000" stroke-width="1.7" fill="none"/><path d="M291.40,362.40L283.80,359.50Q285.40,362.40 283.80,365.30Z" fill="#000" stroke="#000" stroke-width="0.8" stroke-linejoin="round"/>
<path d="M272.60,413.10H285.90" stroke="#000" stroke-width="1.7" fill="none"/><path d="M291.40,413.10L283.80,410.20Q285.40,413.10 283.80,416.00Z" fill="#000" stroke="#000" stroke-width="0.8" stroke-linejoin="round"/>
<path d="M270.50,455.60H283.70" stroke="#000" stroke-width="1.7" fill="none"/><path d="M289.20,455.60L281.60,452.70Q283.20,455.60 281.60,458.50Z" fill="#000" stroke="#000" stroke-width="0.8" stroke-linejoin="round"/>
<rect x="311.9" y="45.95" width="5.0" height="1.35" fill="#000"/>
<rect x="310.9" y="361.25" width="5.0" height="1.35" fill="#000"/>
<text x="186.10" y="46.80" font-family="Liberation Serif" font-weight="normal" font-size="15.1" textLength="45.60" lengthAdjust="spacingAndGlyphs" stroke="#000" stroke-width="0.15">Pellets</text>
<text x="180.00" y="367.90" font-family="Liberation Serif" font-weight="normal" font-size="15.1" textLength="45.55" lengthAdjust="spacingAndGlyphs" stroke="#000" stroke-width="0.15">Pellets</text>
<text x="100.00" y="88.20" font-family="Liberation Serif" font-weight="normal" font-size="15.0" textLength="23.85" lengthAdjust="spacingAndGlyphs" stroke="#000" stroke-width="0.15">298</text>
<text x="129.95" y="88.20" font-family="Liberation Serif" font-weight="normal" font-size="15.0" textLength="11.25" lengthAdjust="spacingAndGlyphs" stroke="#000" stroke-width="0.15">K</text>
<text x="94.50" y="150.40" font-family="Liberation Serif" font-weight="normal" font-size="15.0" textLength="23.85" lengthAdjust="spacingAndGlyphs" stroke="#000" stroke-width="0.15">298</text>
<text x="124.45" y="150.40" font-family="Liberation Serif" font-weight="normal" font-size="15.0" textLength="11.25" lengthAdjust="spacingAndGlyphs" stroke="#000" stroke-width="0.15">K</text>
<text x="104.40" y="400.90" font-family="Liberation Serif" font-weight="normal" font-size="15.0" textLength="23.85" lengthAdjust="spacingAndGlyphs" stroke="#000" stroke-width="0.15">298</text>
<text x="134.35" y="400.90" font-family="Liberation Serif" font-weight="normal" font-size="15.0" textLength="11.25" lengthAdjust="spacingAndGlyphs" stroke="#000" stroke-width="0.15">K</text>
<text x="100.50" y="458.60" font-family="Liberation Serif" font-weight="normal" font-size="15.0" textLength="23.85" lengthAdjust="spacingAndGlyphs" stroke="#000" stroke-width="0.15">298</text>
<text x="130.45" y="458.60" font-family="Liberation Serif" font-weight="normal" font-size="15.0" textLength="11.25" lengthAdjust="spacingAndGlyphs" stroke="#000" stroke-width="0.15">K</text>
<text x="91.75" y="237.10" font-family="Liberation Serif" font-weight="normal" font-size="14.6" textLength="53.95" lengthAdjust="spacingAndGlyphs" stroke="#000" stroke-width="0.15">340-365</text>
<text x="151.45" y="237.10" font-family="Liberation Serif" font-weight="normal" font-size="14.6" textLength="11.30" lengthAdjust="spacingAndGlyphs" stroke="#000" stroke-width="0.15">K</text>
<text x="102.95" y="553.10" font-family="Liberation Serif" font-weight="normal" font-size="14.6" textLength="53.95" lengthAdjust="spacingAndGlyphs" stroke="#000" stroke-width="0.15">340-365</text>
<text x="162.75" y="553.10" font-family="Liberation Serif" font-weight="normal" font-size="14.6" textLength="11.30" lengthAdjust="spacingAndGlyphs" stroke="#000" stroke-width="0.15">K</text>
<text x="180.20" y="97.10" font-family="Liberation Serif" font-weight="normal" font-size="15.0" textLength="47.85" lengthAdjust="spacingAndGlyphs" stroke="#000" stroke-width="0.15">Packed</text>
<text x="234.60" y="97.10" font-family="Liberation Serif" font-weight="normal" font-size="15.0" textLength="23.50" lengthAdjust="spacingAndGlyphs" stroke="#000" stroke-width="0.15">bed</text>
<text x="179.00" y="204.30" font-family="Liberation Serif" font-weight="normal" font-size="15.0" textLength="47.85" lengthAdjust="spacingAndGlyphs" stroke="#000" stroke-width="0.15">Packed</text>
<text x="233.40" y="204.30" font-family="Liberation Serif" font-weight="normal" font-size="15.0" textLength="23.20" lengthAdjust="spacingAndGlyphs" stroke="#000" stroke-width="0.15">bed</text>
<text x="173.65" y="415.60" font-family="Liberation Serif" font-weight="normal" font-size="15.0" textLength="48.25" lengthAdjust="spacingAndGlyphs" stroke="#000" stroke-width="0.15">Packed</text>
<text x="228.50" y="415.60" font-family="Liberation Serif" font-weight="normal" font-size="15.0" textLength="23.50" lengthAdjust="spacingAndGlyphs" stroke="#000" stroke-width="0.15">bed</text>
<text x="173.40" y="508.80" font-family="Liberation Serif" font-weight="normal" font-size="15.0" textLength="48.20" lengthAdjust="spacingAndGlyphs" stroke="#000" stroke-width="0.15">Packed</text>
<text x="228.10" y="508.80" font-family="Liberation Serif" font-weight="normal" font-size="15.0" textLength="23.50" lengthAdjust="spacingAndGlyphs" stroke="#000" stroke-width="0.15">bed</text>
<text x="282.50" y="26.80" font-family="Liberation Serif" font-weight="normal" font-size="15.0" textLength="13.05" lengthAdjust="spacingAndGlyphs" stroke="#000" stroke-width="0.15">%</text>
<text x="300.70" y="26.80" font-family="Liberation Serif" font-weight="normal" font-size="15.0" textLength="31.35" lengthAdjust="spacingAndGlyphs" stroke="#000" stroke-width="0.15">drop</text>
<text x="282.00" y="343.30" font-family="Liberation Serif" font-weight="normal" font-size="15.0" textLength="12.95" lengthAdjust="spacingAndGlyphs" stroke="#000" stroke-width="0.15">%</text>
<text x="300.40" y="343.30" font-family="Liberation Serif" font-weight="normal" font-size="15.0" textLength="30.90" lengthAdjust="spacingAndGlyphs" stroke="#000" stroke-width="0.15">drop</text>
<text x="346.10" y="27.00" font-family="Liberation Serif" font-weight="normal" font-size="15.4" textLength="30.85" lengthAdjust="spacingAndGlyphs" stroke="#000" stroke-width="0.15">V/V</text>
<text x="344.50" y="344.30" font-family="Liberation Serif" font-weight="normal" font-size="15.4" textLength="31.00" lengthAdjust="spacingAndGlyphs" stroke="#000" stroke-width="0.15">V/V</text>
<text x="351.30" y="49.90" font-family="Liberation Serif" font-weight="normal" font-size="14.9" textLength="23.10" lengthAdjust="spacingAndGlyphs" stroke="#000" stroke-width="0.15">245</text>
<text x="300.90" y="104.90" font-family="Liberation Serif" font-weight="normal" font-size="14.9" textLength="27.25" lengthAdjust="spacingAndGlyphs" stroke="#000" stroke-width="0.15">26.5</text>
<text x="351.25" y="103.90" font-family="Liberation Serif" font-weight="normal" font-size="14.9" textLength="24.00" lengthAdjust="spacingAndGlyphs" stroke="#000" stroke-width="0.15">180</text>
<text x="292.60" y="147.20" font-family="Liberation Serif" font-weight="normal" font-size="14.9" textLength="36.55" lengthAdjust="spacingAndGlyphs" stroke="#000" stroke-width="0.15">70-80</text>
<text x="333.25" y="147.20" font-family="Liberation Serif" font-weight="normal" font-size="14.9" textLength="51.90" lengthAdjust="spacingAndGlyphs" stroke="#000" stroke-width="0.15">126-144</text>
<text x="349.65" y="364.70" font-family="Liberation Serif" font-weight="normal" font-size="14.9" textLength="24.00" lengthAdjust="spacingAndGlyphs" stroke="#000" stroke-width="0.15">180</text>
<text x="304.00" y="412.70" font-family="Liberation Serif" font-weight="normal" font-size="14.9" textLength="15.55" lengthAdjust="spacingAndGlyphs" stroke="#000" stroke-width="0.15">23</text>
<text x="350.05" y="411.60" font-family="Liberation Serif" font-weight="normal" font-size="14.9" textLength="24.30" lengthAdjust="spacingAndGlyphs" stroke="#000" stroke-width="0.15">138</text>
<text x="293.30" y="457.50" font-family="Liberation Serif" font-weight="normal" font-size="14.9" textLength="36.55" lengthAdjust="spacingAndGlyphs" stroke="#000" stroke-width="0.15">70-80</text>
<text x="335.90" y="457.50" font-family="Liberation Serif" font-weight="normal" font-size="14.9" textLength="46.75" lengthAdjust="spacingAndGlyphs" stroke="#000" stroke-width="0.15">96-110</text>
<text x="170.85" y="299.50" font-family="Liberation Serif" font-weight="normal" font-size="13.6" textLength="57.65" lengthAdjust="spacingAndGlyphs" stroke="#000" stroke-width="0.15">Pressure,</text>
<text x="232.85" y="299.50" font-family="Liberation Serif" font-weight="normal" font-size="13.6" textLength="29.15" lengthAdjust="spacingAndGlyphs" stroke="#000" stroke-width="0.15">MPa</text>
<text x="167.85" y="615.40" font-family="Liberation Serif" font-weight="normal" font-size="13.6" textLength="58.05" lengthAdjust="spacingAndGlyphs" stroke="#000" stroke-width="0.15">Pressure,</text>
<text x="230.75" y="615.40" font-family="Liberation Serif" font-weight="normal" font-size="13.6" textLength="28.95" lengthAdjust="spacingAndGlyphs" stroke="#000" stroke-width="0.15">MPa</text>
<text x="0.05" y="15.80" font-family="Liberation Serif" font-weight="bold" font-size="18.2" textLength="21.40" lengthAdjust="spacingAndGlyphs">(a)</text>
<text x="0.05" y="331.10" font-family="Liberation Serif" font-weight="bold" font-size="18.2" textLength="22.05" lengthAdjust="spacingAndGlyphs">(b)</text>
<g transform="translate(12.1,203.9) rotate(-90)"><text x="-1.00" y="0.00" font-family="Liberation Serif" font-weight="normal" font-size="14.9" textLength="48.05" lengthAdjust="spacingAndGlyphs" stroke="#000" stroke-width="0.15">Storage</text></g>
<g transform="translate(12.1,151.6) rotate(-90)"><text x="-0.50" y="0.00" font-family="Liberation Serif" font-weight="normal" font-size="14.9" textLength="55.40" lengthAdjust="spacingAndGlyphs" stroke="#000" stroke-width="0.15">capacity,</text></g>
<g transform="translate(12.1,91.2) rotate(-90)"><text x="0.00" y="0.00" font-family="Liberation Serif" font-weight="normal" font-size="14.9" textLength="28.05" lengthAdjust="spacingAndGlyphs" stroke="#000" stroke-width="0.15">V/V</text></g>
<g transform="translate(12.1,520.7) rotate(-90)"><text x="-1.00" y="0.00" font-family="Liberation Serif" font-weight="normal" font-size="14.9" textLength="48.05" lengthAdjust="spacingAndGlyphs" stroke="#000" stroke-width="0.15">Storage</text></g>
<g transform="translate(12.1,468.4) rotate(-90)"><text x="-0.50" y="0.00" font-family="Liberation Serif" font-weight="normal" font-size="14.9" textLength="55.40" lengthAdjust="spacingAndGlyphs" stroke="#000" stroke-width="0.15">capacity,</text></g>
<g transform="translate(12.1,408.0) rotate(-90)"><text x="0.00" y="0.00" font-family="Liberation Serif" font-weight="normal" font-size="14.9" textLength="28.05" lengthAdjust="spacingAndGlyphs" stroke="#000" stroke-width="0.15">V/V</text></g>
</svg></body></html>
